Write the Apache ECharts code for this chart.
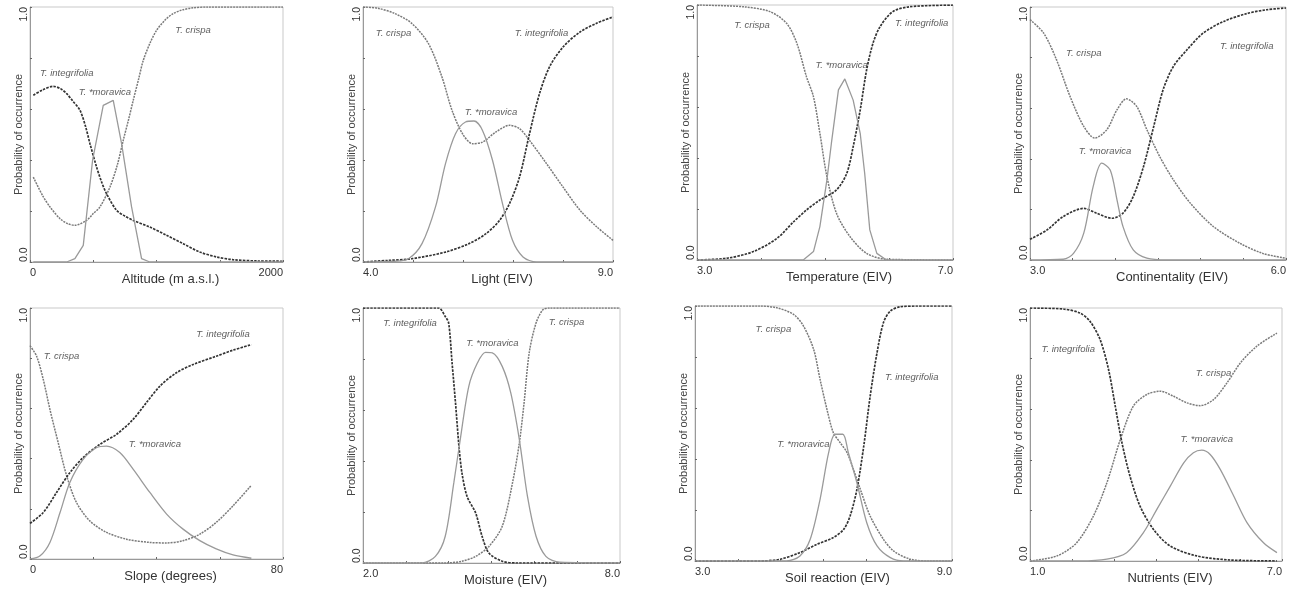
<!DOCTYPE html>
<html>
<head>
<meta charset="utf-8">
<script src="https://cdn.jsdelivr.net/npm/echarts@6/dist/echarts.min.js"></script>
<style>
  html, body { margin: 0; padding: 0; background: #fff; }
  #chart { width: 1295px; height: 592px; }
</style>
</head>
<body>
<div id="chart"></div>
<script>
// response curves, [x, probability]
const altCrispa = [[26,0.333],[100,0.26],[158,0.216],[237,0.17],[300,0.15],[355,0.144],[447,0.163],[500,0.19],[553,0.216],[632,0.294],[690,0.38],[737,0.477],[780,0.56],[816,0.634],[860,0.72],[895,0.79],[950,0.86],[1000,0.908],[1070,0.95],[1132,0.974],[1200,0.988],[1289,0.997],[1400,1],[2000,1]];
const altInteg = [[26,0.654],[100,0.675],[184,0.689],[240,0.68],[290,0.66],[340,0.63],[395,0.595],[440,0.53],[474,0.464],[526,0.373],[565,0.315],[605,0.268],[684,0.203],[750,0.18],[816,0.163],[947,0.137],[1079,0.105],[1211,0.072],[1342,0.039],[1474,0.02],[1605,0.009],[1800,0.004],[2000,0.003]];
const altMorav = [[26,0],[290,0],[355,0.013],[421,0.065],[495,0.4],[579,0.614],[658,0.634],[724,0.464],[803,0.216],[882,0.013],[947,0],[2000,0]];

const lightCrispa = [[4,1],[4.3,0.995],[4.64,0.974],[4.98,0.935],[5.31,0.856],[5.58,0.725],[5.78,0.595],[5.99,0.503],[6.19,0.464],[6.39,0.47],[6.66,0.51],[6.93,0.536],[7.13,0.523],[7.33,0.477],[7.67,0.386],[8,0.294],[8.34,0.203],[8.68,0.137],[9,0.085]];
const lightInteg = [[4,0],[4.5,0.006],[4.98,0.013],[5.65,0.039],[6.12,0.072],[6.46,0.111],[6.73,0.163],[6.93,0.229],[7.13,0.333],[7.33,0.503],[7.53,0.66],[7.73,0.765],[8,0.843],[8.34,0.902],[8.68,0.937],[9,0.961]];
const lightMorav = [[4,0],[4.64,0.003],[4.91,0.013],[5.18,0.072],[5.45,0.216],[5.65,0.386],[5.85,0.503],[6.05,0.549],[6.22,0.553],[6.39,0.516],[6.59,0.399],[6.79,0.229],[6.99,0.085],[7.2,0.02],[7.47,0],[9,0]];

const tempCrispa = [[3,1],[3.73,0.993],[4.14,0.974],[4.4,0.928],[4.56,0.85],[4.71,0.719],[4.82,0.64],[4.92,0.497],[5.03,0.327],[5.18,0.183],[5.39,0.092],[5.65,0.026],[5.96,0.003],[7,0]];
const tempInteg = [[3,0],[3.47,0.007],[3.88,0.033],[4.25,0.085],[4.51,0.15],[4.71,0.196],[4.92,0.235],[5.18,0.275],[5.34,0.34],[5.44,0.444],[5.55,0.588],[5.65,0.745],[5.75,0.85],[5.86,0.915],[6.06,0.974],[6.32,0.993],[7,1]];
const tempMorav = [[3,0],[4.66,0],[4.82,0.033],[4.92,0.131],[5.03,0.314],[5.1,0.458],[5.21,0.667],[5.31,0.71],[5.44,0.627],[5.55,0.497],[5.62,0.34],[5.7,0.118],[5.81,0.026],[5.96,0],[7,0]];

const contCrispa = [[3,0.95],[3.16,0.897],[3.31,0.792],[3.47,0.646],[3.63,0.528],[3.76,0.482],[3.9,0.515],[4.02,0.594],[4.13,0.637],[4.25,0.607],[4.37,0.515],[4.52,0.409],[4.68,0.317],[4.88,0.224],[5.15,0.132],[5.46,0.066],[5.73,0.026],[6,0.007]];
const contInteg = [[3,0.082],[3.2,0.119],[3.39,0.172],[3.63,0.204],[3.78,0.185],[3.96,0.165],[4.09,0.185],[4.21,0.251],[4.33,0.369],[4.45,0.528],[4.56,0.673],[4.68,0.765],[4.84,0.831],[5.03,0.897],[5.27,0.943],[5.54,0.974],[5.77,0.989],[6,0.996]];
const contMorav = [[3,0],[3.39,0.003],[3.51,0.026],[3.63,0.106],[3.74,0.29],[3.84,0.383],[3.94,0.356],[4.02,0.237],[4.09,0.132],[4.21,0.04],[4.37,0.007],[4.6,0],[6,0]];

const slopeCrispa = [[0,0.85],[2.1,0.808],[4.2,0.715],[6.3,0.596],[8.9,0.464],[11.6,0.331],[14.7,0.225],[18.9,0.152],[24.2,0.106],[30.5,0.079],[37.9,0.066],[43.2,0.064],[48.4,0.073],[53.7,0.099],[58.9,0.146],[64.2,0.212],[70,0.294]];
const slopeInteg = [[0,0.142],[4.2,0.185],[8.4,0.265],[12.6,0.344],[16.8,0.404],[22.1,0.457],[27.4,0.497],[32.6,0.556],[36.8,0.623],[41.1,0.689],[46.3,0.742],[51.6,0.775],[58.9,0.808],[64.2,0.832],[70,0.854]];
const slopeMorav = [[0,0],[3.2,0.013],[6.3,0.066],[9.5,0.185],[12.6,0.305],[16.8,0.397],[21.1,0.444],[24.2,0.45],[28.4,0.424],[32.6,0.358],[37.9,0.265],[43.2,0.179],[48.4,0.119],[53.7,0.073],[58.9,0.04],[64.2,0.016],[70,0.003]];

const moistInteg = [[2,1],[3.76,1],[3.92,0.967],[4,0.941],[4.08,0.784],[4.16,0.627],[4.24,0.458],[4.31,0.353],[4.43,0.261],[4.63,0.196],[4.78,0.105],[4.94,0.039],[5.25,0.007],[5.6,0],[8,0]];
const moistCrispa = [[2,0],[3.92,0],[4.31,0.007],[4.63,0.026],[4.94,0.065],[5.25,0.144],[5.49,0.314],[5.65,0.471],[5.76,0.627],[5.88,0.824],[6.04,0.941],[6.2,0.993],[6.35,1],[8,1]];
const moistMorav = [[2,0],[3.37,0],[3.69,0.026],[3.92,0.105],[4.12,0.314],[4.27,0.484],[4.47,0.693],[4.67,0.784],[4.86,0.826],[5.02,0.824],[5.25,0.771],[5.45,0.667],[5.65,0.484],[5.84,0.261],[6.04,0.105],[6.27,0.026],[6.59,0.003],[8,0]];

const soilCrispa = [[3,1],[4.5,1],[4.91,0.993],[5.3,0.967],[5.53,0.922],[5.77,0.83],[5.92,0.712],[6.08,0.595],[6.23,0.503],[6.39,0.464],[6.55,0.425],[6.7,0.359],[6.86,0.281],[7.09,0.176],[7.4,0.085],[7.64,0.039],[8.03,0.007],[8.5,0],[9,0]];
const soilInteg = [[3,0],[4.52,0],[4.99,0.007],[5.45,0.033],[5.84,0.065],[6.23,0.092],[6.47,0.124],[6.62,0.176],[6.78,0.281],[6.94,0.451],[7.09,0.647],[7.25,0.817],[7.4,0.935],[7.56,0.98],[7.79,0.997],[8.2,1],[9,1]];
const soilMorav = [[3,0],[5.14,0],[5.45,0.02],[5.69,0.085],[5.92,0.242],[6.12,0.425],[6.27,0.497],[6.45,0.497],[6.58,0.425],[6.78,0.307],[7.01,0.15],[7.25,0.059],[7.56,0.013],[7.87,0],[9,0]];

const nutrInteg = [[1,1],[1.79,0.996],[2.19,0.98],[2.43,0.947],[2.67,0.875],[2.87,0.757],[3.03,0.612],[3.19,0.467],[3.38,0.336],[3.62,0.217],[3.94,0.125],[4.34,0.059],[4.97,0.02],[5.77,0.004],[6.88,0]];
const nutrCrispa = [[1,0],[1.64,0.02],[2.11,0.072],[2.51,0.178],[2.83,0.309],[3.15,0.48],[3.46,0.612],[3.78,0.658],[4.1,0.671],[4.42,0.651],[4.74,0.625],[5.05,0.614],[5.37,0.638],[5.69,0.704],[6.01,0.783],[6.4,0.849],[6.88,0.901]];
const nutrMorav = [[1,0],[2.19,0],[2.83,0.007],[3.3,0.033],[3.7,0.112],[4.02,0.204],[4.34,0.296],[4.66,0.388],[4.89,0.428],[5.09,0.438],[5.29,0.421],[5.53,0.362],[5.85,0.257],[6.17,0.151],[6.56,0.072],[6.88,0.033]];

// axes: name, range, tick step, end labels
const xNames = ["Altitude (m a.s.l.)", "Light (EIV)", "Temperature (EIV)", "Continentality (EIV)",
                "Slope (degrees)", "Moisture (EIV)", "Soil reaction (EIV)", "Nutrients (EIV)"];
const xMin = [0, 4, 3, 3, 0, 2, 3, 1];
const xMax = [2000, 9, 7, 6, 80, 8, 9, 7];
const xStep = [500, 1, 1, 0.5, 20, 1, 1, 1];
const xEndLabels = [["0", "2000"], ["4.0", "9.0"], ["3.0", "7.0"], ["3.0", "6.0"],
                    ["0", "80"], ["2.0", "8.0"], ["3.0", "9.0"], ["1.0", "7.0"]];
const yEndLabels = ["0.0", "1.0"];

const crispaCurves = [altCrispa, lightCrispa, tempCrispa, contCrispa, slopeCrispa, moistCrispa, soilCrispa, nutrCrispa];
const integCurves = [altInteg, lightInteg, tempInteg, contInteg, slopeInteg, moistInteg, soilInteg, nutrInteg];
const moravCurves = [altMorav, lightMorav, tempMorav, contMorav, slopeMorav, moistMorav, soilMorav, nutrMorav];

// where the species names sit, in data units [crispa, integrifolia, moravica]
const namePos = [
  [[1289, 0.908], [290, 0.739], [592, 0.667]],
  [[4.61, 0.895], [7.57, 0.895], [6.56, 0.588]],
  [[3.86, 0.922], [6.51, 0.928], [5.26, 0.765]],
  [[3.63, 0.818], [5.54, 0.844], [3.88, 0.429]],
  [[10, 0.808], [61, 0.894], [39.5, 0.457]],
  [[6.75, 0.944], [3.1, 0.941], [5.02, 0.863]],
  [[4.83, 0.908], [8.06, 0.719], [5.53, 0.458]],
  [[5.37, 0.743], [1.91, 0.836], [5.21, 0.48]]
];
const speciesNames = ["T. crispa", "T. integrifolia", "T. *moravica"];

// panel boxes in px
const boxes = [
  { left: 30, top: 7, width: 253, height: 255 },
  { left: 363, top: 7, width: 250, height: 255 },
  { left: 697, top: 5, width: 256, height: 255 },
  { left: 1030, top: 7, width: 256, height: 253 },
  { left: 30, top: 308, width: 253, height: 251 },
  { left: 363, top: 308, width: 257, height: 255 },
  { left: 695, top: 306, width: 257, height: 255 },
  { left: 1030, top: 308, width: 252, height: 253 }
];

const polyPanels = [0, 2]; // moravica drawn as straight segments here
const font = "Liberation Sans, Arial, sans-serif";

let myChart = echarts.init(document.getElementById("chart"));

let grids = [], xAxes = [], yAxes = [], series = [];
boxes.forEach((b, i) => {
  grids.push({ left: b.left, top: b.top, width: b.width, height: b.height,
               show: true, borderColor: "#c9c9c9", borderWidth: 1, containLabel: false });
  xAxes.push({
    type: "value", gridIndex: i, min: xMin[i], max: xMax[i], interval: xStep[i],
    name: xNames[i], nameLocation: "middle", nameGap: 11, nameMoveOverlap: false,
    nameTextStyle: { fontFamily: font, fontSize: 13, color: "#333", padding: [0, 0, 0, 28], verticalAlign: "top" },
    axisLine: { show: true, lineStyle: { color: "#999", width: 1 } },
    axisTick: { show: true, inside: true, length: 2, lineStyle: { color: "#666" } },
    splitLine: { show: false },
    axisLabel: {
      fontFamily: font, fontSize: 11, color: "#333", margin: 5,
      alignMinLabel: "left", alignMaxLabel: "right",
      formatter: v => v === xMin[i] ? xEndLabels[i][0] : (v === xMax[i] ? xEndLabels[i][1] : "")
    }
  });
  yAxes.push({
    type: "value", gridIndex: i, min: 0, max: 1, interval: 0.2,
    name: "Probability of occurrence", nameLocation: "middle", nameGap: 6, nameMoveOverlap: false,
    nameTextStyle: { fontFamily: font, fontSize: 11, color: "#444" },
    axisLine: { show: true, lineStyle: { color: "#999", width: 1 } },
    axisTick: { show: true, inside: true, length: 2, lineStyle: { color: "#666" } },
    splitLine: { show: false },
    axisLabel: {
      fontFamily: font, fontSize: 10.5, color: "#333", margin: 0, rotate: 90,
      alignMinLabel: "left", alignMaxLabel: "right",
      formatter: v => v === 0 ? yEndLabels[0] : (v === 1 ? yEndLabels[1] : "")
    }
  });

  let common = { type: "line", xAxisIndex: i, yAxisIndex: i, showSymbol: false, silent: true, animation: false };
  series.push(Object.assign({}, common, {
    name: "T. crispa", data: crispaCurves[i], smooth: 0.3,
    lineStyle: { color: "#7a7a7a", width: 1.5, type: [2, 1] }
  }));
  series.push(Object.assign({}, common, {
    name: "T. integrifolia", data: integCurves[i], smooth: 0.3,
    lineStyle: { color: "#333", width: 1.7, type: [2.5, 1.2] }
  }));
  series.push(Object.assign({}, common, {
    name: "T. *moravica", data: moravCurves[i], smooth: polyPanels.includes(i) ? false : 0.3,
    lineStyle: { color: "#9a9a9a", width: 1.3, type: "solid" }
  }));
  // species labels
  series.push({
    type: "scatter", xAxisIndex: i, yAxisIndex: i, symbolSize: 0, silent: true, animation: false,
    data: namePos[i].map((p, k) => ({ value: p, name: speciesNames[k] })),
    label: {
      show: true, position: "inside", formatter: "{b}",
      fontFamily: font, fontSize: 9.5, fontStyle: "italic", color: "#333"
    }
  });
});

let option = {
  backgroundColor: "#fff",
  grid: grids,
  xAxis: xAxes,
  yAxis: yAxes,
  series: series
};
myChart.setOption(option, true);

window.addEventListener("resize", () => {
  myChart.resize();
});
</script>
</body>
</html>
